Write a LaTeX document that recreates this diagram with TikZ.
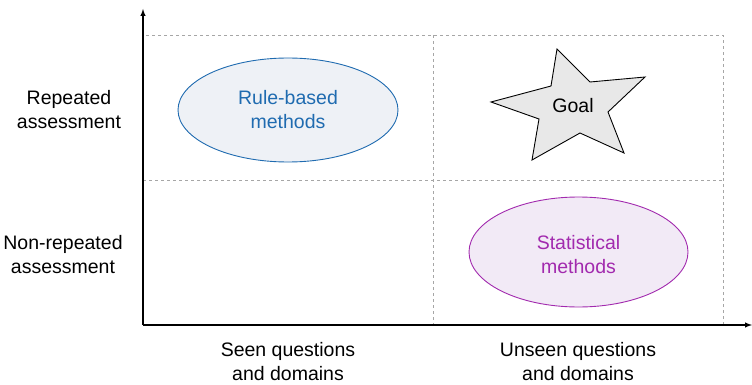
\documentclass[tikz,border=0pt]{standalone}
\usepackage{fontspec}
\setmainfont{Liberation Sans}
\usetikzlibrary{shapes.geometric}
\definecolor{rulec}{HTML}{1F6BB0}
\definecolor{rulefill}{HTML}{EEF1F6}
\definecolor{statc}{HTML}{A22AAE}
\definecolor{statfill}{HTML}{F2EAF6}
\definecolor{starfill}{HTML}{E8E8E8}
\begin{document}
\begin{tikzpicture}[x=1pt,y=-1pt]
\tikzstyle{every node}=[font=\fontsize{19.5}{24}\selectfont,align=center]
\tikzstyle{cell}=[gray!70,dash pattern=on 3pt off 3pt,line width=0.9pt]
\useasboundingbox (0,0) rectangle (752,385);

% Grid of the four quadrants
\draw[cell] (143,35) rectangle (723,325);
\draw[cell] (433,35) -- (433,325);
\draw[cell] (143,180) -- (723,180);

% Axes
\coordinate (origin) at (143,325);
\coordinate (ytop) at (143,9);
\coordinate (xend) at (752,325);
\draw[-latex,line width=1.4pt] (origin) -- (ytop);
\draw[-latex,line width=1.4pt] (origin) -- (xend);

% Row labels
\node (rep) at (69,110) {Repeated\\assessment};
\node (nonrep) at (63,255) {Non-repeated\\assessment};

% Column labels
\node (seen) at (288,362) {Seen questions\\and domains};
\node (unseen) at (578,362) {Unseen questions\\and domains};

% Rule-based methods, top left
\node[draw=rulec,fill=rulefill,text=rulec,ellipse,line width=0.9pt,
  minimum width=220pt,minimum height=104pt,inner sep=0pt] (rule) at (288,110)
{Rule-based\\methods};

% Statistical methods, bottom right
\filldraw[draw=statc,fill=statfill,line width=0.9pt]
  (578.5,252) ellipse [x radius=109.5pt,y radius=55pt];
\node[text=statc] (stat) at (578.5,255) {Statistical\\methods};

% Goal star, top right
\filldraw[fill=starfill,draw=black,line width=0.9pt,line join=miter]
  (557,49) -- (590,82) -- (645,77) -- (608,112) -- (624,153) -- (580,133)
  -- (532,160) -- (539,119) -- (491,102) -- (551,86) -- cycle;
\node (goal) at (573,106) {Goal};

\end{tikzpicture}
\end{document}
